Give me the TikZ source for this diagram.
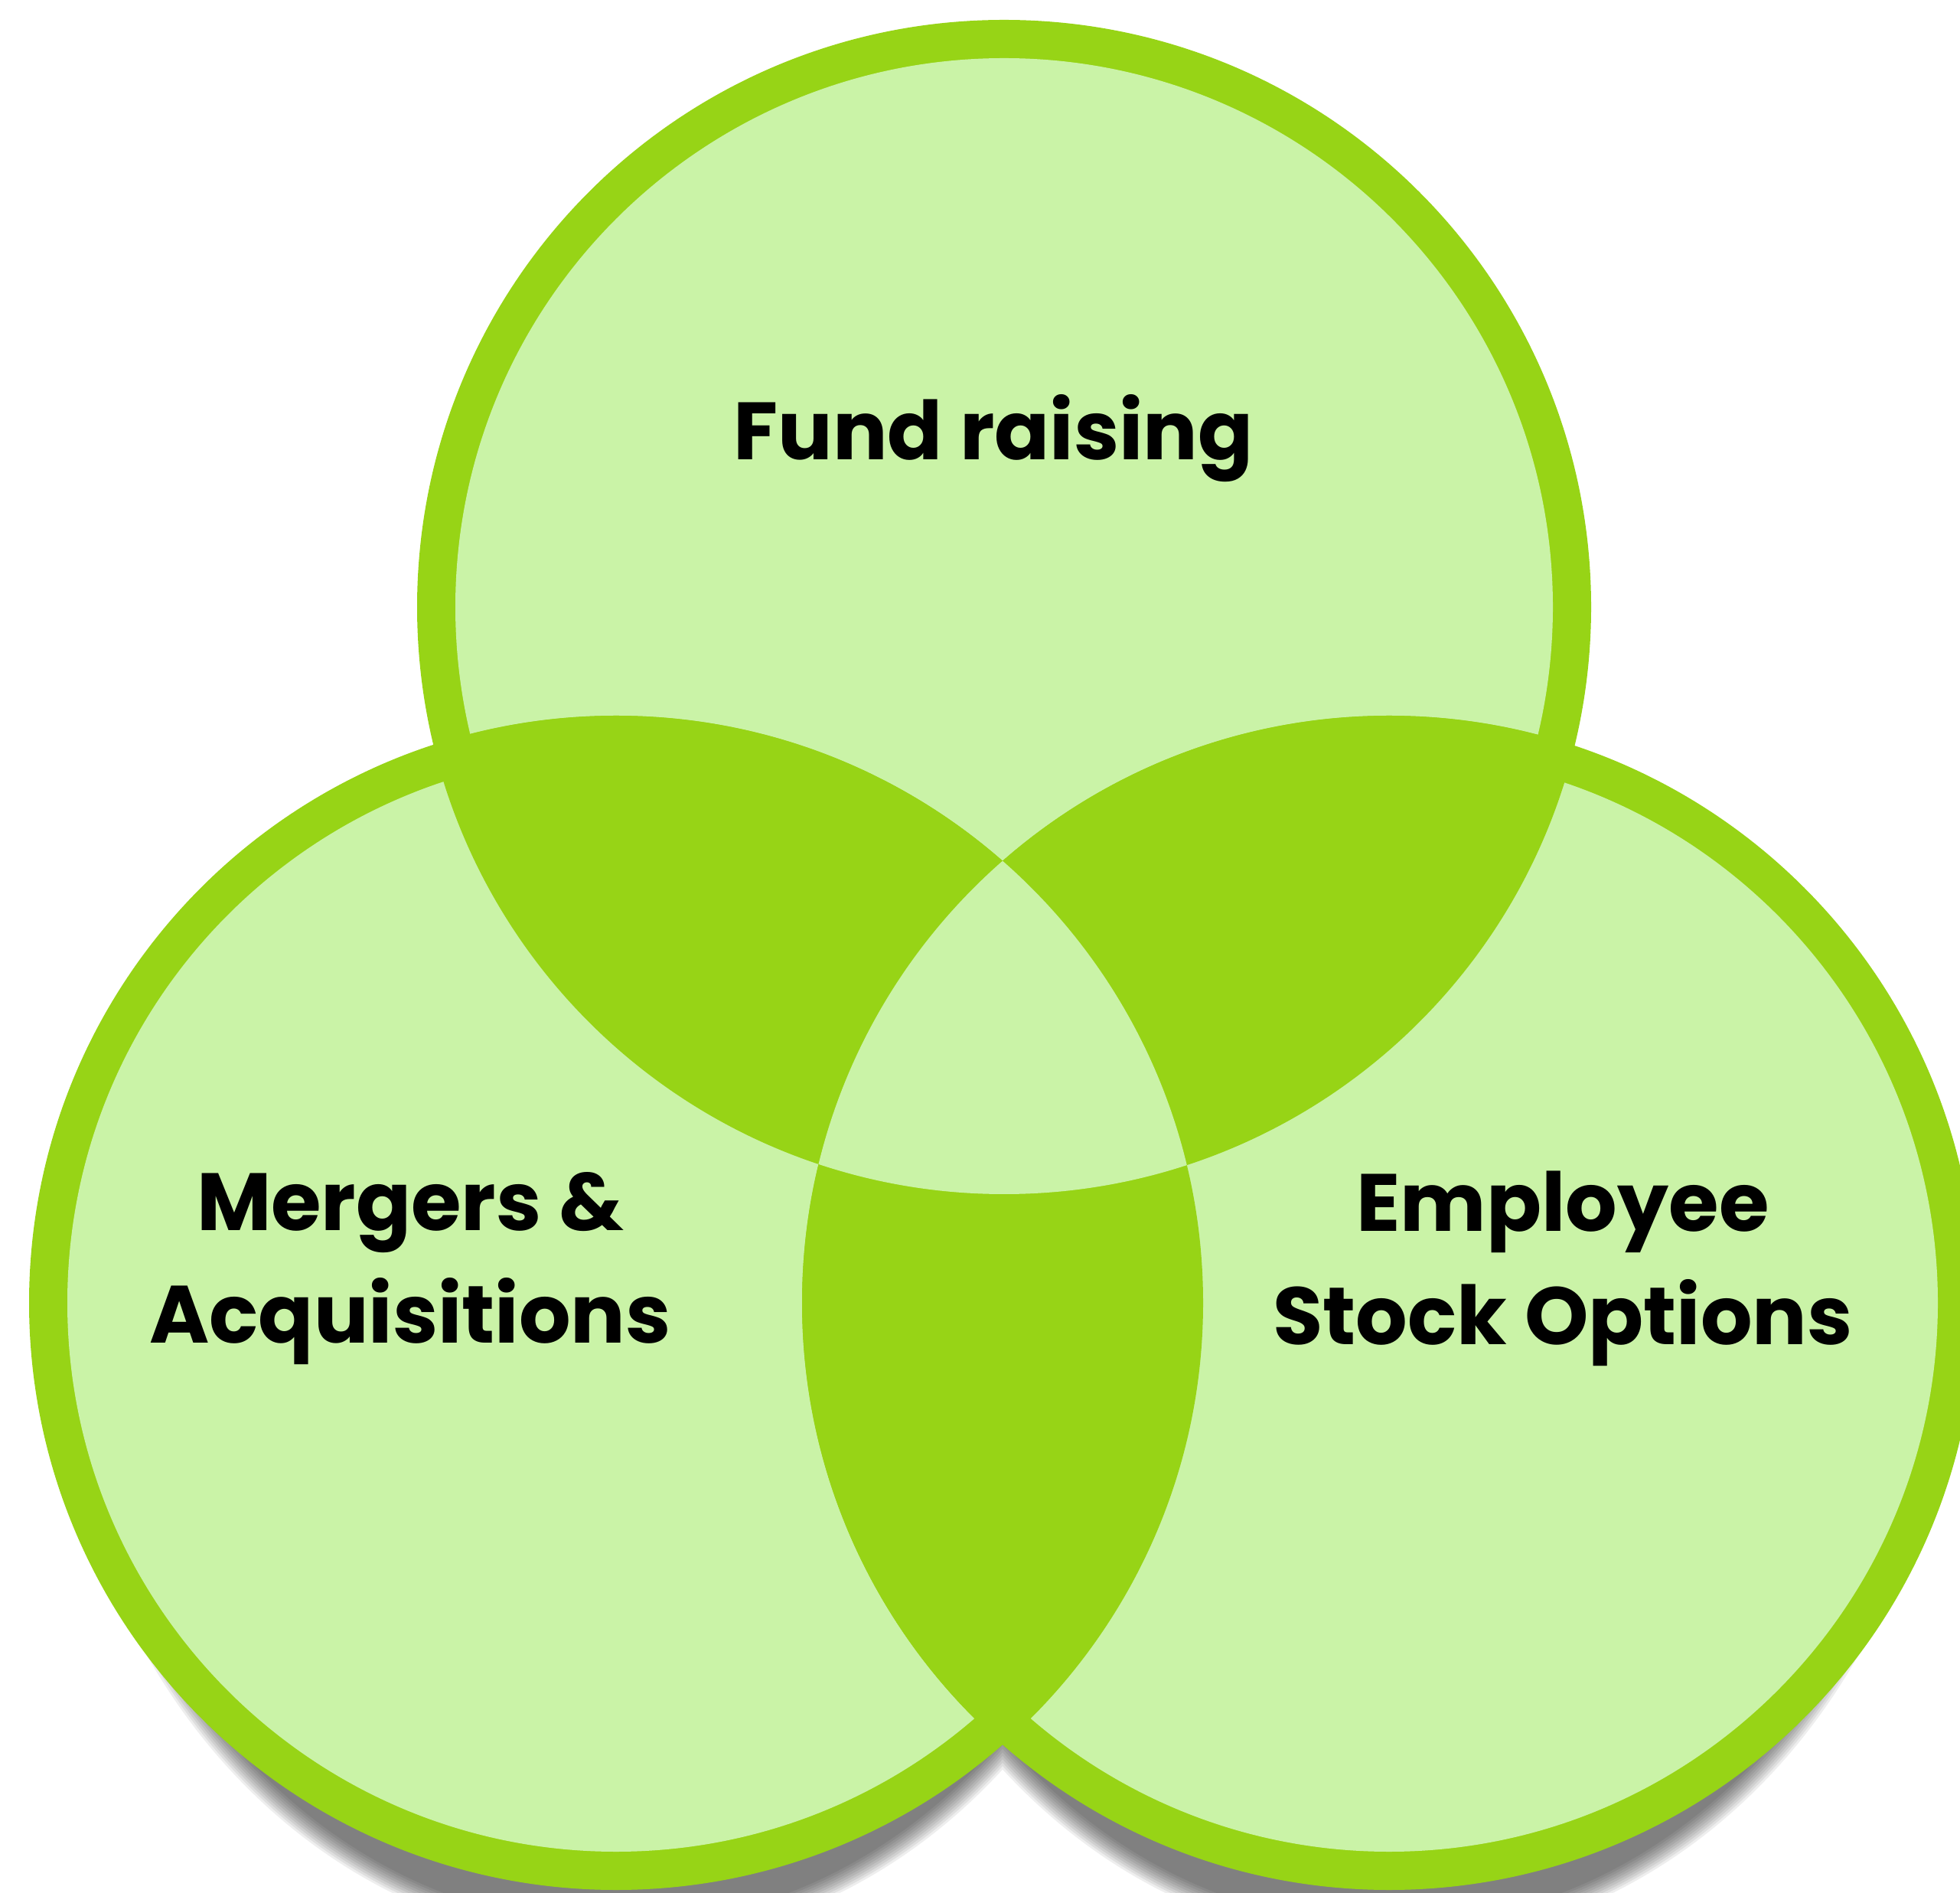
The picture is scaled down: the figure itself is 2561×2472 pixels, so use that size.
\documentclass[tikz,border=0pt]{standalone}
\usepackage{fontspec}
\setmainfont{Poppins}
\usetikzlibrary{calc}
\definecolor{leafdark}{HTML}{97D416}
\definecolor{leaflight}{HTML}{CAF3A7}
\tikzset{lbl/.style={font=\fontsize{30.2}{42}\selectfont\bfseries, align=center, text=black}}

\begin{document}
\begin{tikzpicture}[x=0.01cm,y=0.01cm]
\useasboundingbox (0,0) rectangle (2561,2472);
\coordinate (fr) at (1312,1679);
\coordinate (ma) at (805,770);
\coordinate (eso) at (1815,770);
% soft shadow under the two lower circles
\begin{scope}
	\clip (0,0) rectangle (2561,770);
	\foreach \i in {0,...,9}{
		\fill[black,opacity=0.067] ($(ma)+(0,-19)$) ellipse[x radius={727-3*\i}, y radius={821-3*\i}]
			($(eso)+(0,-19)$) ellipse[x radius={727-3*\i}, y radius={821-3*\i}];
	}
\end{scope}
\foreach \c in {fr,ma,eso}{
	\fill[leafdark] (\c) circle[radius=767];
	\fill[leaflight] (\c) circle[radius=717];
}
% two-way overlaps
\foreach \a/\b in {fr/ma,fr/eso,ma/eso}{
	\begin{scope}
		\clip (\a) circle[radius=767];
		\fill[leafdark] (\b) circle[radius=767];
	\end{scope}
}
% middle part
\begin{scope}
	\clip (fr) circle[radius=767];
	\clip (ma) circle[radius=767];
	\fill[leaflight] (eso) circle[radius=767];
\end{scope}
\node[lbl, anchor=base] (fund) at (1298,1871) {Fund raising};
\node[lbl] (merge) at (536,815) {Mergers \&\\Acquisitions};
\node[lbl] (stock) at (2042,815) {Employee\\Stock Options};
\end{tikzpicture}
\end{document}
